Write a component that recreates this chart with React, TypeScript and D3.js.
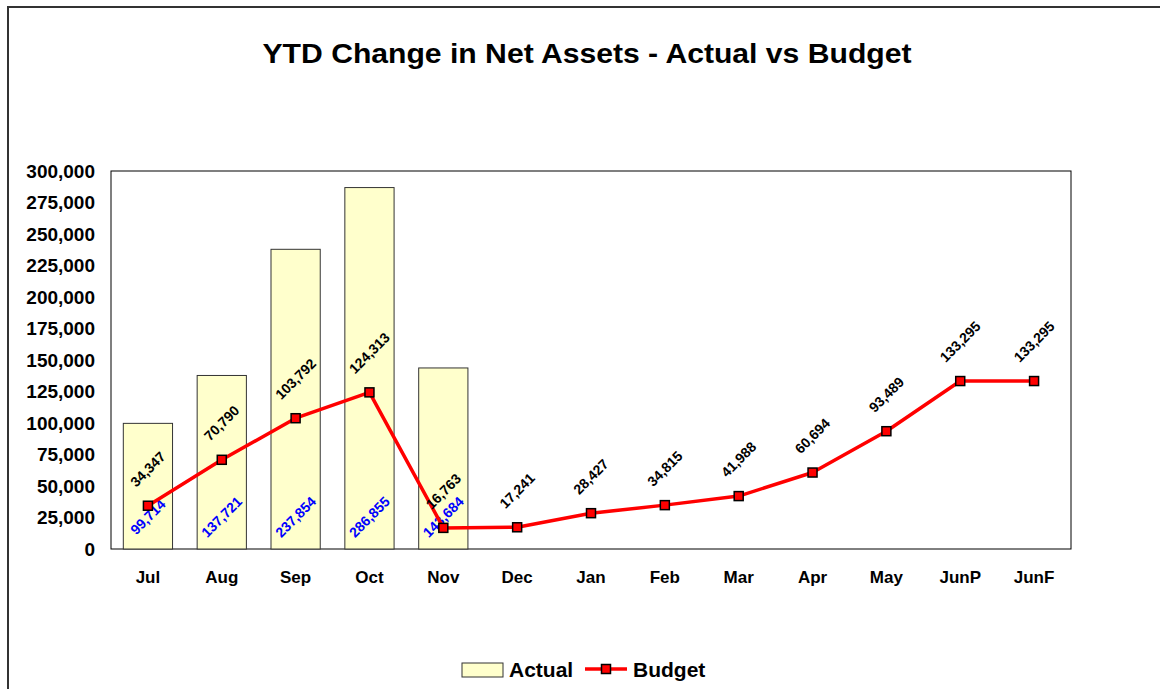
import React from 'react';
import * as d3 from 'd3';

// chart data
const categories = ['Jul', 'Aug', 'Sep', 'Oct', 'Nov', 'Dec', 'Jan', 'Feb', 'Mar', 'Apr', 'May', 'JunP', 'JunF'];
const actualValues = [99714, 137721, 237854, 286855, 143684];
const budgetValues = [34347, 70790, 103792, 124313, 16763, 17241, 28427, 34815, 41988, 60694, 93489, 133295, 133295];
const yTickValues = [0, 25000, 50000, 75000, 100000, 125000, 150000, 175000, 200000, 225000, 250000, 275000, 300000];

const W = 1160;
const H = 689;
const FONT = 'Liberation Sans, Arial, sans-serif';

// rough bold Arial width estimate for the rotated labels
const labelWidth = (s: string, size: number) =>
  s.split('').reduce((acc, c) => acc + (c === ',' ? 0.278 : 0.556), 0) * size;

const App: React.FC = () => {
  const plot = { left: 111, right: 1071, top: 171, bottom: 549 };
  const fmt = d3.format(',');

  const x = d3.scaleBand<string>()
    .domain(categories)
    .range([plot.left, plot.right])
    .paddingInner(0.3333)
    .paddingOuter(0.16667);

  const y = d3.scaleLinear()
    .domain([0, 300000])
    .range([plot.bottom, plot.top]);

  const cx = (c: string) => (x(c) ?? 0) + x.bandwidth() / 2;

  const line = d3.line<number>()
    .x((d, i) => cx(categories[i]))
    .y(d => y(d));

  const labelSize = 14;
  const markerSize = 9;

  return (
    <svg width={W} height={H} style={{ position: 'absolute', left: 0, top: 0, background: '#fff' }}
      fontFamily={FONT}>
      {/* outer chart frame */}
      <path d={`M8,${H} L8,7 L${W},7`} fill="none" stroke="#333" strokeWidth={2} />

      <text x={587} y={63} textAnchor="middle" fontSize={27} fontWeight="bold"
        textLength={649} lengthAdjust="spacingAndGlyphs">
        YTD Change in Net Assets - Actual vs Budget
      </text>

      {/* plot area */}
      <rect x={plot.left} y={plot.top} width={plot.right - plot.left} height={plot.bottom - plot.top}
        fill="#fff" stroke="#000" strokeWidth={1} />

      {/* y axis labels */}
      {yTickValues.map(t => (
        <text key={t} x={95} y={y(t)} dy="0.36em" textAnchor="end" fontSize={19} fontWeight="bold">
          {fmt(t)}
        </text>
      ))}

      {/* x axis labels */}
      {categories.map(c => (
        <text key={c} x={cx(c)} y={583} textAnchor="middle" fontSize={17} fontWeight="bold">{c}</text>
      ))}

      {/* actual bars */}
      {actualValues.map((v, i) => (
        <rect key={categories[i]} x={x(categories[i])} y={y(v)} width={x.bandwidth()}
          height={plot.bottom - y(v)} fill="#FFFFCC" stroke="#333" strokeWidth={1} />
      ))}

      {/* actual labels, inside base */}
      {actualValues.map((v, i) => {
        const px = cx(categories[i]);
        const py = plot.bottom - 32;
        return (
          <text key={'a' + i} x={px} y={py} dy="0.35em" textAnchor="middle" fontSize={labelSize}
            fontWeight="bold" fill="#0000FF" transform={`rotate(-45, ${px}, ${py})`}>
            {fmt(v)}
          </text>
        );
      })}

      {/* budget line */}
      <path d={line(budgetValues) ?? ''} fill="none" stroke="#FF0000" strokeWidth={3.5}
        strokeLinejoin="round" />
      {budgetValues.map((v, i) => (
        <rect key={'m' + i} x={cx(categories[i]) - markerSize / 2} y={y(v) - markerSize / 2}
          width={markerSize} height={markerSize} fill="#FF0000" stroke="#000" strokeWidth={1.5} />
      ))}

      {/* budget labels, above */}
      {budgetValues.map((v, i) => {
        const s = fmt(v);
        const tw = labelWidth(s, labelSize);
        const px = cx(categories[i]);
        const py = y(v) - (tw + labelSize) * 0.3536 - 16.5;
        return (
          <text key={'b' + i} x={px} y={py} dy="0.35em" textAnchor="middle" fontSize={labelSize}
            fontWeight="bold" fill="#000" transform={`rotate(-45, ${px}, ${py})`}>
            {s}
          </text>
        );
      })}

      {/* legend */}
      <g>
        <rect x={462} y={663} width={41} height={14} fill="#FFFFCC" stroke="#333" strokeWidth={1} />
        <text x={509} y={677} fontSize={21} fontWeight="bold">Actual</text>
        <line x1={585} x2={627} y1={669} y2={669} stroke="#FF0000" strokeWidth={3.5} />
        <rect x={606 - markerSize / 2} y={669 - markerSize / 2} width={markerSize} height={markerSize}
          fill="#FF0000" stroke="#000" strokeWidth={1.5} />
        <text x={633} y={677} fontSize={21} fontWeight="bold">Budget</text>
      </g>
    </svg>
  );
};

export default App;
